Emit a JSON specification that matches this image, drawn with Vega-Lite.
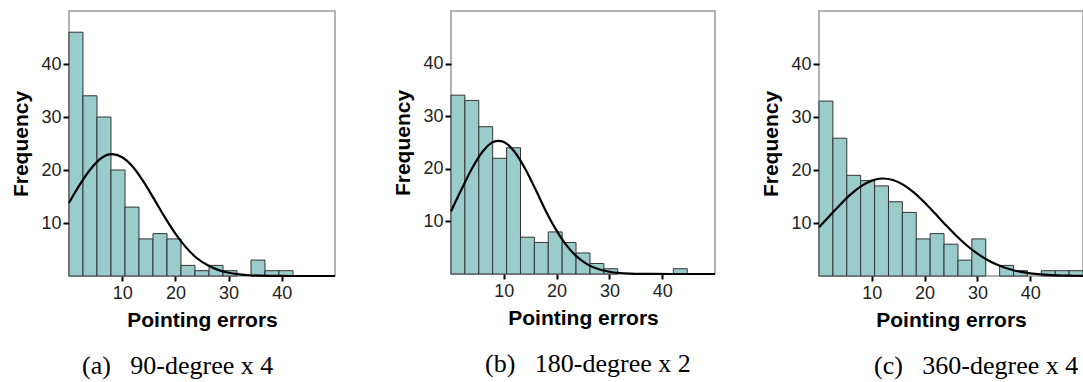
{
  "$schema": "https://vega.github.io/schema/vega-lite/v6.json",
  "padding": {"left": 10, "top": 10, "right": 0, "bottom": 0},
  "autosize": {"type": "pad"},
  "background": "white",
  "config": {
    "font": "Liberation Sans",
    "view": {"stroke": "#999999", "strokeWidth": 1.5},
    "axis": {
      "grid": false, "domain": false,
      "tickColor": "black", "tickWidth": 2,
      "labelFont": "Liberation Sans", "labelFontSize": 18, "labelColor": "#222222",
      "titleFont": "Liberation Sans", "titleFontSize": 21, "titleFontWeight": "bold", "titleColor": "black"
    },
    "axisX": {"tickSize": 5, "labelPadding": 3, "titlePadding": 7},
    "axisY": {"tickSize": 6, "labelPadding": 2, "titlePadding": 9},
    "title": {"font": "Liberation Serif", "fontSize": 26, "fontWeight": "normal", "color": "black", "orient": "bottom", "anchor": "start", "frame": "group", "offset": 23}
  },
  "datasets": {
    "bars": [
      {"panel": "a", "x0": 0, "x1": 2.63, "count": 46},
      {"panel": "a", "x0": 2.63, "x1": 5.26, "count": 34},
      {"panel": "a", "x0": 5.26, "x1": 7.89, "count": 30},
      {"panel": "a", "x0": 7.89, "x1": 10.53, "count": 20},
      {"panel": "a", "x0": 10.53, "x1": 13.16, "count": 13},
      {"panel": "a", "x0": 13.16, "x1": 15.79, "count": 7},
      {"panel": "a", "x0": 15.79, "x1": 18.42, "count": 8},
      {"panel": "a", "x0": 18.42, "x1": 21.05, "count": 7},
      {"panel": "a", "x0": 21.05, "x1": 23.68, "count": 2},
      {"panel": "a", "x0": 23.68, "x1": 26.32, "count": 1},
      {"panel": "a", "x0": 26.32, "x1": 28.95, "count": 2},
      {"panel": "a", "x0": 28.95, "x1": 31.58, "count": 1},
      {"panel": "a", "x0": 34.21, "x1": 36.84, "count": 3},
      {"panel": "a", "x0": 36.84, "x1": 39.47, "count": 1},
      {"panel": "a", "x0": 39.47, "x1": 42.11, "count": 1},
      {"panel": "b", "x0": 0, "x1": 2.63, "count": 34},
      {"panel": "b", "x0": 2.63, "x1": 5.26, "count": 33},
      {"panel": "b", "x0": 5.26, "x1": 7.89, "count": 28},
      {"panel": "b", "x0": 7.89, "x1": 10.53, "count": 22},
      {"panel": "b", "x0": 10.53, "x1": 13.16, "count": 24},
      {"panel": "b", "x0": 13.16, "x1": 15.79, "count": 7},
      {"panel": "b", "x0": 15.79, "x1": 18.42, "count": 6},
      {"panel": "b", "x0": 18.42, "x1": 21.05, "count": 8},
      {"panel": "b", "x0": 21.05, "x1": 23.68, "count": 6},
      {"panel": "b", "x0": 23.68, "x1": 26.32, "count": 4},
      {"panel": "b", "x0": 26.32, "x1": 28.95, "count": 2},
      {"panel": "b", "x0": 28.95, "x1": 31.58, "count": 1},
      {"panel": "b", "x0": 42.11, "x1": 44.74, "count": 1},
      {"panel": "c", "x0": 0, "x1": 2.63, "count": 33},
      {"panel": "c", "x0": 2.63, "x1": 5.26, "count": 26},
      {"panel": "c", "x0": 5.26, "x1": 7.89, "count": 19},
      {"panel": "c", "x0": 7.89, "x1": 10.53, "count": 18},
      {"panel": "c", "x0": 10.53, "x1": 13.16, "count": 17},
      {"panel": "c", "x0": 13.16, "x1": 15.79, "count": 14},
      {"panel": "c", "x0": 15.79, "x1": 18.42, "count": 12},
      {"panel": "c", "x0": 18.42, "x1": 21.05, "count": 7},
      {"panel": "c", "x0": 21.05, "x1": 23.68, "count": 8},
      {"panel": "c", "x0": 23.68, "x1": 26.32, "count": 6},
      {"panel": "c", "x0": 26.32, "x1": 28.95, "count": 3},
      {"panel": "c", "x0": 28.95, "x1": 31.58, "count": 7},
      {"panel": "c", "x0": 34.21, "x1": 36.84, "count": 2},
      {"panel": "c", "x0": 36.84, "x1": 39.47, "count": 1},
      {"panel": "c", "x0": 42.11, "x1": 44.74, "count": 1},
      {"panel": "c", "x0": 44.74, "x1": 47.37, "count": 1},
      {"panel": "c", "x0": 47.37, "x1": 50, "count": 1}
    ],
    "curves": [
      {"panel": "a", "x": 0, "y": 13.8}, {"panel": "a", "x": 2, "y": 17.2}, {"panel": "a", "x": 4, "y": 20.1},
      {"panel": "a", "x": 6, "y": 22.2}, {"panel": "a", "x": 8, "y": 23.0}, {"panel": "a", "x": 10, "y": 22.4},
      {"panel": "a", "x": 12, "y": 20.6}, {"panel": "a", "x": 14, "y": 17.8}, {"panel": "a", "x": 16, "y": 14.5},
      {"panel": "a", "x": 18, "y": 11.1}, {"panel": "a", "x": 20, "y": 8.0}, {"panel": "a", "x": 22, "y": 5.4},
      {"panel": "a", "x": 24, "y": 3.4}, {"panel": "a", "x": 26, "y": 2.06}, {"panel": "a", "x": 28, "y": 1.16},
      {"panel": "a", "x": 30, "y": 0.61}, {"panel": "a", "x": 32, "y": 0.31}, {"panel": "a", "x": 34, "y": 0.14},
      {"panel": "a", "x": 36, "y": 0.06}, {"panel": "a", "x": 38, "y": 0.03}, {"panel": "a", "x": 40, "y": 0.01},
      {"panel": "a", "x": 44, "y": 0}, {"panel": "a", "x": 50, "y": 0},
      {"panel": "b", "x": 0, "y": 11.9}, {"panel": "b", "x": 2, "y": 16.1}, {"panel": "b", "x": 4, "y": 20.1},
      {"panel": "b", "x": 6, "y": 23.3}, {"panel": "b", "x": 8, "y": 25.1}, {"panel": "b", "x": 9, "y": 25.3},
      {"panel": "b", "x": 10, "y": 25.1}, {"panel": "b", "x": 12, "y": 23.3}, {"panel": "b", "x": 14, "y": 20.1},
      {"panel": "b", "x": 16, "y": 16.1}, {"panel": "b", "x": 18, "y": 11.9}, {"panel": "b", "x": 20, "y": 8.25},
      {"panel": "b", "x": 22, "y": 5.29}, {"panel": "b", "x": 24, "y": 3.15}, {"panel": "b", "x": 26, "y": 1.74},
      {"panel": "b", "x": 28, "y": 0.89}, {"panel": "b", "x": 30, "y": 0.43}, {"panel": "b", "x": 32, "y": 0.19},
      {"panel": "b", "x": 34, "y": 0.08}, {"panel": "b", "x": 36, "y": 0.03}, {"panel": "b", "x": 38, "y": 0.01},
      {"panel": "b", "x": 42, "y": 0}, {"panel": "b", "x": 50, "y": 0},
      {"panel": "c", "x": 0, "y": 9.21}, {"panel": "c", "x": 2, "y": 11.34}, {"panel": "c", "x": 4, "y": 13.46},
      {"panel": "c", "x": 6, "y": 15.39}, {"panel": "c", "x": 8, "y": 16.95}, {"panel": "c", "x": 10, "y": 17.99},
      {"panel": "c", "x": 12, "y": 18.4}, {"panel": "c", "x": 14, "y": 18.12}, {"panel": "c", "x": 16, "y": 17.2},
      {"panel": "c", "x": 18, "y": 15.73}, {"panel": "c", "x": 20, "y": 13.86}, {"panel": "c", "x": 22, "y": 11.77},
      {"panel": "c", "x": 24, "y": 9.63}, {"panel": "c", "x": 26, "y": 7.59}, {"panel": "c", "x": 28, "y": 5.76},
      {"panel": "c", "x": 30, "y": 4.22}, {"panel": "c", "x": 32, "y": 2.97}, {"panel": "c", "x": 34, "y": 2.02},
      {"panel": "c", "x": 36, "y": 1.32}, {"panel": "c", "x": 38, "y": 0.83}, {"panel": "c", "x": 40, "y": 0.51},
      {"panel": "c", "x": 42, "y": 0.30}, {"panel": "c", "x": 44, "y": 0.17}, {"panel": "c", "x": 46, "y": 0.09},
      {"panel": "c", "x": 48, "y": 0.05}, {"panel": "c", "x": 50, "y": 0.02}
    ]
  },
  "hconcat": [
    {
      "width": 266, "height": 265,
      "title": {"text": "(a)\u00a0\u00a0\u00a090-degree x 4", "dx": 13},
      "layer": [
        {
          "data": {"name": "bars"},
          "transform": [{"filter": "datum.panel === 'a'"}],
          "mark": {"type": "rect", "fill": "#9ACCCC", "stroke": "#333333", "strokeWidth": 1},
          "encoding": {
            "x": {"field": "x0", "type": "quantitative", "scale": {"domain": [0, 50], "nice": false}, "axis": {"values": [10, 20, 30, 40], "title": "Pointing errors"}},
            "x2": {"field": "x1"},
            "y": {"field": "count", "type": "quantitative", "scale": {"domain": [0, 50], "nice": false}, "axis": {"values": [10, 20, 30, 40], "title": "Frequency"}},
            "y2": {"datum": 0}
          }
        },
        {
          "data": {"name": "curves"},
          "transform": [{"filter": "datum.panel === 'a'"}],
          "mark": {"type": "line", "color": "black", "strokeWidth": 2.2, "interpolate": "monotone"},
          "encoding": {
            "x": {"field": "x", "type": "quantitative"},
            "y": {"field": "y", "type": "quantitative"}
          }
        }
      ]
    },
    {
      "hconcat": [
        {
          "width": 264, "height": 263,
          "title": {"text": "(b)\u00a0\u00a0\u00a0180-degree x 2", "dx": 34},
          "layer": [
            {
              "data": {"name": "bars"},
              "transform": [{"filter": "datum.panel === 'b'"}],
              "mark": {"type": "rect", "fill": "#9ACCCC", "stroke": "#333333", "strokeWidth": 1},
              "encoding": {
                "x": {"field": "x0", "type": "quantitative", "scale": {"domain": [0, 50], "nice": false}, "axis": {"values": [10, 20, 30, 40], "title": "Pointing errors"}},
                "x2": {"field": "x1"},
                "y": {"field": "count", "type": "quantitative", "scale": {"domain": [0, 50], "nice": false}, "axis": {"values": [10, 20, 30, 40], "title": "Frequency"}},
                "y2": {"datum": 0}
              }
            },
            {
              "data": {"name": "curves"},
              "transform": [{"filter": "datum.panel === 'b'"}],
              "mark": {"type": "line", "color": "black", "strokeWidth": 2.2, "interpolate": "monotone"},
              "encoding": {
                "x": {"field": "x", "type": "quantitative"},
                "y": {"field": "y", "type": "quantitative"}
              }
            }
          ]
        },
        {
          "width": 264, "height": 265,
          "title": {"text": "(c)\u00a0\u00a0\u00a0360-degree x 4", "dx": 55},
          "layer": [
            {
              "data": {"name": "bars"},
              "transform": [{"filter": "datum.panel === 'c'"}],
              "mark": {"type": "rect", "fill": "#9ACCCC", "stroke": "#333333", "strokeWidth": 1},
              "encoding": {
                "x": {"field": "x0", "type": "quantitative", "scale": {"domain": [0, 50], "nice": false}, "axis": {"values": [10, 20, 30, 40], "title": "Pointing errors"}},
                "x2": {"field": "x1"},
                "y": {"field": "count", "type": "quantitative", "scale": {"domain": [0, 50], "nice": false}, "axis": {"values": [10, 20, 30, 40], "title": "Frequency"}},
                "y2": {"datum": 0}
              }
            },
            {
              "data": {"name": "curves"},
              "transform": [{"filter": "datum.panel === 'c'"}],
              "mark": {"type": "line", "color": "black", "strokeWidth": 2.2, "interpolate": "monotone"},
              "encoding": {
                "x": {"field": "x", "type": "quantitative"},
                "y": {"field": "y", "type": "quantitative"}
              }
            }
          ]
        }
      ],
      "spacing": 104,
      "bounds": "flush"
    }
  ],
  "spacing": 116,
  "bounds": "flush"
}
